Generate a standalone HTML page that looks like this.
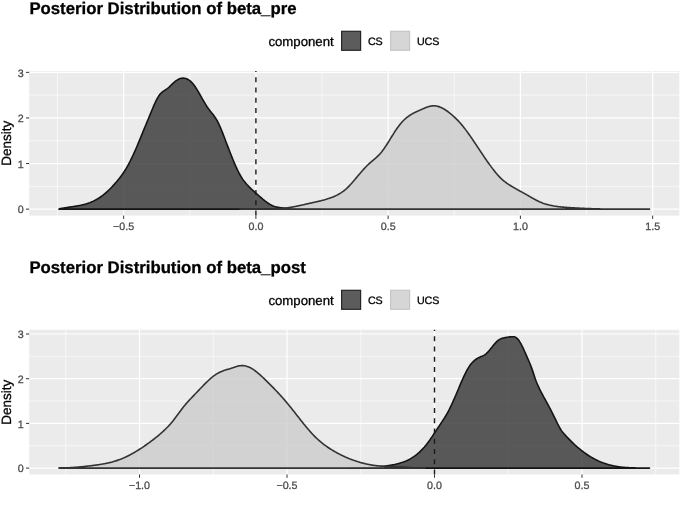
<!DOCTYPE html>
<html><head><meta charset="utf-8"><title>Posterior Distributions</title>
<style>
html,body{margin:0;padding:0;background:#fff;}
body{width:685px;height:514px;overflow:hidden;font-family:"Liberation Sans", sans-serif;}
svg{display:block;position:absolute;left:0;top:0;}
text{text-rendering:geometricPrecision;stroke:currentColor;stroke-width:0.3;}
#w{position:absolute;left:0;top:0;width:685px;height:514px;will-change:transform;}
</style></head><body>
<div id="w"><svg width="685" height="514" viewBox="0 0 685 514">
<g>
<rect width="685" height="514" fill="#fff"/>
<text x="29.4" y="13.80" font-family="'Liberation Sans', sans-serif" font-weight="bold" font-size="16.75" fill="#000" color="#000">Posterior Distribution of beta_pre</text>
<text x="268.4" y="45.60" font-family="'Liberation Sans', sans-serif" font-size="13.2" fill="#000" color="#000">component</text>
<rect x="341.6" y="31.30" width="19" height="19" fill="#5c5c5c" stroke="#262626" stroke-width="1.2"/>
<text x="367.9" y="45.15" font-family="'Liberation Sans', sans-serif" font-size="10.7" fill="#000" color="#000">CS</text>
<rect x="390.6" y="31.30" width="19" height="19" fill="#d6d6d6" stroke="#c6c6c6" stroke-width="1.2"/>
<text x="416.9" y="45.15" font-family="'Liberation Sans', sans-serif" font-size="10.7" fill="#000" color="#000">UCS</text>
<rect x="29.20" y="71.00" width="650.10" height="144.60" fill="#ebebeb"/>
<line x1="29.20" x2="679.30" y1="186.35" y2="186.35" stroke="#fff" stroke-width="0.6"/>
<line x1="29.20" x2="679.30" y1="140.75" y2="140.75" stroke="#fff" stroke-width="0.6"/>
<line x1="29.20" x2="679.30" y1="95.15" y2="95.15" stroke="#fff" stroke-width="0.6"/>
<line x1="57.53" x2="57.53" y1="71.00" y2="215.60" stroke="#fff" stroke-width="0.6"/>
<line x1="189.78" x2="189.78" y1="71.00" y2="215.60" stroke="#fff" stroke-width="0.6"/>
<line x1="322.02" x2="322.02" y1="71.00" y2="215.60" stroke="#fff" stroke-width="0.6"/>
<line x1="454.27" x2="454.27" y1="71.00" y2="215.60" stroke="#fff" stroke-width="0.6"/>
<line x1="586.52" x2="586.52" y1="71.00" y2="215.60" stroke="#fff" stroke-width="0.6"/>
<line x1="29.20" x2="679.30" y1="209.15" y2="209.15" stroke="#fff" stroke-width="1.2"/>
<line x1="29.20" x2="679.30" y1="163.55" y2="163.55" stroke="#fff" stroke-width="1.2"/>
<line x1="29.20" x2="679.30" y1="117.95" y2="117.95" stroke="#fff" stroke-width="1.2"/>
<line x1="29.20" x2="679.30" y1="72.35" y2="72.35" stroke="#fff" stroke-width="1.2"/>
<line x1="123.65" x2="123.65" y1="71.00" y2="215.60" stroke="#fff" stroke-width="1.2"/>
<line x1="255.90" x2="255.90" y1="71.00" y2="215.60" stroke="#fff" stroke-width="1.2"/>
<line x1="388.15" x2="388.15" y1="71.00" y2="215.60" stroke="#fff" stroke-width="1.2"/>
<line x1="520.40" x2="520.40" y1="71.00" y2="215.60" stroke="#fff" stroke-width="1.2"/>
<line x1="652.65" x2="652.65" y1="71.00" y2="215.60" stroke="#fff" stroke-width="1.2"/>
<path d="M58.90,209.15 L58.90,209.15 L59.65,208.79 L60.40,208.63 L61.15,208.49 L61.90,208.34 L62.65,208.20 L63.40,208.07 L64.15,207.94 L64.90,207.82 L65.65,207.70 L66.40,207.58 L67.15,207.47 L67.90,207.35 L68.65,207.24 L69.40,207.13 L70.15,207.02 L70.90,206.91 L71.65,206.80 L72.40,206.69 L73.15,206.58 L73.90,206.46 L74.65,206.35 L75.40,206.23 L76.15,206.10 L76.90,205.97 L77.65,205.84 L78.40,205.70 L79.15,205.56 L79.90,205.41 L80.65,205.26 L81.40,205.09 L82.15,204.92 L82.90,204.74 L83.65,204.56 L84.40,204.36 L85.15,204.15 L85.90,203.94 L86.65,203.71 L87.40,203.47 L88.15,203.22 L88.90,202.96 L89.65,202.69 L90.40,202.40 L91.15,202.10 L91.90,201.78 L92.65,201.46 L93.40,201.11 L94.15,200.75 L94.90,200.37 L95.65,199.98 L96.40,199.57 L97.15,199.14 L97.90,198.69 L98.65,198.23 L99.40,197.74 L100.15,197.24 L100.90,196.72 L101.65,196.18 L102.40,195.62 L103.15,195.04 L103.90,194.44 L104.65,193.82 L105.40,193.19 L106.15,192.54 L106.90,191.87 L107.65,191.19 L108.40,190.48 L109.15,189.76 L109.90,189.02 L110.65,188.27 L111.40,187.50 L112.15,186.71 L112.90,185.91 L113.65,185.09 L114.40,184.25 L115.15,183.40 L115.90,182.53 L116.65,181.65 L117.40,180.75 L118.15,179.84 L118.90,178.91 L119.65,177.96 L120.40,176.98 L121.15,175.99 L121.90,174.96 L122.65,173.91 L123.40,172.82 L124.15,171.71 L124.90,170.55 L125.65,169.35 L126.40,168.12 L127.15,166.84 L127.90,165.51 L128.65,164.13 L129.40,162.71 L130.15,161.24 L130.90,159.73 L131.65,158.19 L132.40,156.60 L133.15,154.98 L133.90,153.33 L134.65,151.65 L135.40,149.95 L136.15,148.22 L136.90,146.47 L137.65,144.70 L138.40,142.92 L139.15,141.12 L139.90,139.31 L140.65,137.49 L141.40,135.67 L142.15,133.84 L142.90,132.00 L143.65,130.17 L144.40,128.34 L145.15,126.51 L145.90,124.68 L146.65,122.87 L147.40,121.06 L148.15,119.26 L148.90,117.47 L149.65,115.67 L150.40,113.87 L151.15,112.06 L151.90,110.25 L152.65,108.45 L153.40,106.68 L154.15,104.94 L154.90,103.26 L155.65,101.65 L156.40,100.11 L157.15,98.67 L157.90,97.34 L158.65,96.12 L159.40,95.04 L160.15,94.10 L160.90,93.27 L161.65,92.54 L162.40,91.90 L163.15,91.33 L163.90,90.80 L164.65,90.31 L165.40,89.82 L166.15,89.34 L166.90,88.84 L167.65,88.29 L168.40,87.70 L169.15,87.05 L169.90,86.36 L170.65,85.64 L171.40,84.91 L172.15,84.17 L172.90,83.44 L173.65,82.74 L174.40,82.06 L175.15,81.44 L175.90,80.86 L176.65,80.34 L177.40,79.87 L178.15,79.45 L178.90,79.09 L179.65,78.78 L180.40,78.53 L181.15,78.34 L181.90,78.21 L182.65,78.14 L183.40,78.13 L184.15,78.19 L184.90,78.30 L185.65,78.48 L186.40,78.73 L187.15,79.04 L187.90,79.42 L188.65,79.87 L189.40,80.38 L190.15,80.97 L190.90,81.62 L191.65,82.35 L192.40,83.15 L193.15,84.03 L193.90,84.98 L194.65,86.00 L195.40,87.08 L196.15,88.22 L196.90,89.41 L197.65,90.64 L198.40,91.91 L199.15,93.21 L199.90,94.52 L200.65,95.85 L201.40,97.19 L202.15,98.52 L202.90,99.85 L203.65,101.16 L204.40,102.45 L205.15,103.71 L205.90,104.94 L206.65,106.12 L207.40,107.25 L208.15,108.33 L208.90,109.35 L209.65,110.33 L210.40,111.28 L211.15,112.21 L211.90,113.15 L212.65,114.09 L213.40,115.06 L214.15,116.07 L214.90,117.12 L215.65,118.25 L216.40,119.44 L217.15,120.73 L217.90,122.13 L218.65,123.63 L219.40,125.24 L220.15,126.93 L220.90,128.70 L221.65,130.53 L222.40,132.42 L223.15,134.34 L223.90,136.29 L224.65,138.25 L225.40,140.22 L226.15,142.20 L226.90,144.17 L227.65,146.14 L228.40,148.10 L229.15,150.05 L229.90,151.98 L230.65,153.90 L231.40,155.80 L232.15,157.67 L232.90,159.51 L233.65,161.31 L234.40,163.09 L235.15,164.82 L235.90,166.51 L236.65,168.15 L237.40,169.74 L238.15,171.27 L238.90,172.75 L239.65,174.16 L240.40,175.50 L241.15,176.77 L241.90,177.97 L242.65,179.10 L243.40,180.16 L244.15,181.17 L244.90,182.12 L245.65,183.03 L246.40,183.90 L247.15,184.74 L247.90,185.54 L248.65,186.32 L249.40,187.09 L250.15,187.83 L250.90,188.56 L251.65,189.28 L252.40,189.99 L253.15,190.68 L253.90,191.36 L254.65,192.04 L255.40,192.70 L256.15,193.37 L256.90,194.03 L257.65,194.68 L258.40,195.34 L259.15,195.99 L259.90,196.65 L260.65,197.31 L261.40,197.96 L262.15,198.60 L262.90,199.24 L263.65,199.86 L264.40,200.47 L265.15,201.06 L265.90,201.64 L266.65,202.20 L267.40,202.73 L268.15,203.24 L268.90,203.72 L269.65,204.18 L270.40,204.60 L271.15,204.98 L271.90,205.34 L272.65,205.67 L273.40,205.96 L274.15,206.23 L274.90,206.48 L275.65,206.70 L276.40,206.90 L277.15,207.08 L277.90,207.24 L278.65,207.39 L279.40,207.52 L280.15,207.65 L280.90,207.76 L281.65,207.86 L282.40,207.96 L283.15,208.05 L283.90,208.13 L284.65,208.21 L285.40,208.28 L286.15,208.35 L286.90,208.42 L287.65,208.48 L288.40,208.53 L289.15,208.59 L289.90,208.63 L290.65,208.68 L291.40,208.72 L292.15,208.75 L292.90,208.78 L293.65,208.81 L294.40,208.84 L295.15,208.86 L295.90,208.88 L296.65,208.90 L297.40,208.91 L298.15,208.93 L298.90,208.94 L299.65,208.95 L300.40,208.95 L301.15,208.96 L301.90,208.96 L302.65,208.97 L303.40,208.97 L304.15,208.97 L304.90,208.97 L305.65,208.97 L306.40,208.96 L307.15,208.96 L307.90,208.96 L308.65,208.96 L309.40,208.96 L310.15,208.95 L310.90,208.95 L311.65,208.95 L312.40,208.95 L313.15,208.95 L313.90,208.96 L314.65,208.96 L315.40,208.97 L316.15,208.97 L316.90,208.98 L317.65,208.99 L318.40,209.01 L319.15,209.02 L319.90,209.04 L320.00,209.15 L320.00,209.15 Z" fill="#333333" fill-opacity="0.8" stroke="#141414" stroke-width="1.6" stroke-linejoin="round"/>

<path d="M240.00,209.15 L240.00,209.15 L240.75,209.15 L241.50,209.09 L242.25,209.04 L243.00,208.99 L243.75,208.95 L244.50,208.92 L245.25,208.88 L246.00,208.86 L246.75,208.83 L247.50,208.81 L248.25,208.80 L249.00,208.78 L249.75,208.77 L250.50,208.76 L251.25,208.76 L252.00,208.76 L252.75,208.76 L253.50,208.76 L254.25,208.76 L255.00,208.77 L255.75,208.78 L256.50,208.79 L257.25,208.80 L258.00,208.81 L258.75,208.82 L259.50,208.83 L260.25,208.84 L261.00,208.86 L261.75,208.87 L262.50,208.88 L263.25,208.89 L264.00,208.90 L264.75,208.91 L265.50,208.92 L266.25,208.93 L267.00,208.94 L267.75,208.94 L268.50,208.95 L269.25,208.95 L270.00,208.95 L270.75,208.94 L271.50,208.94 L272.25,208.93 L273.00,208.91 L273.75,208.90 L274.50,208.88 L275.25,208.86 L276.00,208.83 L276.75,208.80 L277.50,208.77 L278.25,208.73 L279.00,208.69 L279.75,208.64 L280.50,208.58 L281.25,208.53 L282.00,208.46 L282.75,208.39 L283.50,208.32 L284.25,208.24 L285.00,208.15 L285.75,208.06 L286.50,207.96 L287.25,207.86 L288.00,207.75 L288.75,207.63 L289.50,207.52 L290.25,207.39 L291.00,207.27 L291.75,207.14 L292.50,207.00 L293.25,206.87 L294.00,206.72 L294.75,206.58 L295.50,206.43 L296.25,206.28 L297.00,206.13 L297.75,205.97 L298.50,205.81 L299.25,205.65 L300.00,205.49 L300.75,205.33 L301.50,205.16 L302.25,205.00 L303.00,204.83 L303.75,204.66 L304.50,204.49 L305.25,204.32 L306.00,204.15 L306.75,203.98 L307.50,203.81 L308.25,203.64 L309.00,203.47 L309.75,203.30 L310.50,203.13 L311.25,202.96 L312.00,202.80 L312.75,202.63 L313.50,202.47 L314.25,202.30 L315.00,202.13 L315.75,201.97 L316.50,201.80 L317.25,201.63 L318.00,201.45 L318.75,201.28 L319.50,201.10 L320.25,200.92 L321.00,200.74 L321.75,200.55 L322.50,200.35 L323.25,200.15 L324.00,199.95 L324.75,199.74 L325.50,199.53 L326.25,199.30 L327.00,199.07 L327.75,198.84 L328.50,198.60 L329.25,198.34 L330.00,198.08 L330.75,197.81 L331.50,197.54 L332.25,197.25 L333.00,196.95 L333.75,196.64 L334.50,196.32 L335.25,195.98 L336.00,195.63 L336.75,195.27 L337.50,194.88 L338.25,194.48 L339.00,194.06 L339.75,193.62 L340.50,193.16 L341.25,192.68 L342.00,192.17 L342.75,191.64 L343.50,191.09 L344.25,190.50 L345.00,189.89 L345.75,189.25 L346.50,188.59 L347.25,187.89 L348.00,187.16 L348.75,186.40 L349.50,185.62 L350.25,184.82 L351.00,184.00 L351.75,183.16 L352.50,182.30 L353.25,181.43 L354.00,180.56 L354.75,179.67 L355.50,178.78 L356.25,177.88 L357.00,176.99 L357.75,176.09 L358.50,175.20 L359.25,174.31 L360.00,173.43 L360.75,172.56 L361.50,171.69 L362.25,170.84 L363.00,169.99 L363.75,169.16 L364.50,168.35 L365.25,167.54 L366.00,166.76 L366.75,165.99 L367.50,165.24 L368.25,164.51 L369.00,163.81 L369.75,163.13 L370.50,162.46 L371.25,161.82 L372.00,161.18 L372.75,160.55 L373.50,159.92 L374.25,159.29 L375.00,158.65 L375.75,158.00 L376.50,157.33 L377.25,156.64 L378.00,155.92 L378.75,155.17 L379.50,154.38 L380.25,153.55 L381.00,152.68 L381.75,151.76 L382.50,150.79 L383.25,149.78 L384.00,148.73 L384.75,147.65 L385.50,146.54 L386.25,145.40 L387.00,144.23 L387.75,143.05 L388.50,141.85 L389.25,140.64 L390.00,139.42 L390.75,138.20 L391.50,136.97 L392.25,135.75 L393.00,134.55 L393.75,133.35 L394.50,132.18 L395.25,131.03 L396.00,129.91 L396.75,128.82 L397.50,127.76 L398.25,126.73 L399.00,125.73 L399.75,124.76 L400.50,123.83 L401.25,122.94 L402.00,122.08 L402.75,121.26 L403.50,120.48 L404.25,119.75 L405.00,119.04 L405.75,118.38 L406.50,117.75 L407.25,117.15 L408.00,116.58 L408.75,116.04 L409.50,115.53 L410.25,115.04 L411.00,114.58 L411.75,114.13 L412.50,113.71 L413.25,113.30 L414.00,112.91 L414.75,112.53 L415.50,112.17 L416.25,111.81 L417.00,111.46 L417.75,111.12 L418.50,110.79 L419.25,110.45 L420.00,110.12 L420.75,109.79 L421.50,109.45 L422.25,109.12 L423.00,108.78 L423.75,108.46 L424.50,108.14 L425.25,107.83 L426.00,107.53 L426.75,107.25 L427.50,106.99 L428.25,106.74 L429.00,106.52 L429.75,106.32 L430.50,106.16 L431.25,106.02 L432.00,105.91 L432.75,105.83 L433.50,105.80 L434.25,105.80 L435.00,105.84 L435.75,105.92 L436.50,106.04 L437.25,106.20 L438.00,106.39 L438.75,106.61 L439.50,106.87 L440.25,107.15 L441.00,107.47 L441.75,107.82 L442.50,108.20 L443.25,108.60 L444.00,109.03 L444.75,109.48 L445.50,109.96 L446.25,110.46 L447.00,110.98 L447.75,111.52 L448.50,112.08 L449.25,112.66 L450.00,113.26 L450.75,113.88 L451.50,114.50 L452.25,115.15 L453.00,115.81 L453.75,116.49 L454.50,117.18 L455.25,117.89 L456.00,118.62 L456.75,119.37 L457.50,120.13 L458.25,120.92 L459.00,121.72 L459.75,122.54 L460.50,123.39 L461.25,124.25 L462.00,125.13 L462.75,126.04 L463.50,126.97 L464.25,127.92 L465.00,128.88 L465.75,129.87 L466.50,130.87 L467.25,131.89 L468.00,132.92 L468.75,133.97 L469.50,135.03 L470.25,136.10 L471.00,137.19 L471.75,138.28 L472.50,139.38 L473.25,140.49 L474.00,141.60 L474.75,142.73 L475.50,143.85 L476.25,144.98 L477.00,146.11 L477.75,147.25 L478.50,148.38 L479.25,149.51 L480.00,150.64 L480.75,151.77 L481.50,152.89 L482.25,154.01 L483.00,155.13 L483.75,156.24 L484.50,157.34 L485.25,158.44 L486.00,159.52 L486.75,160.61 L487.50,161.68 L488.25,162.74 L489.00,163.79 L489.75,164.84 L490.50,165.87 L491.25,166.89 L492.00,167.89 L492.75,168.89 L493.50,169.86 L494.25,170.82 L495.00,171.76 L495.75,172.67 L496.50,173.57 L497.25,174.44 L498.00,175.29 L498.75,176.11 L499.50,176.91 L500.25,177.67 L501.00,178.41 L501.75,179.11 L502.50,179.79 L503.25,180.43 L504.00,181.05 L504.75,181.65 L505.50,182.22 L506.25,182.77 L507.00,183.31 L507.75,183.82 L508.50,184.32 L509.25,184.81 L510.00,185.29 L510.75,185.75 L511.50,186.21 L512.25,186.66 L513.00,187.10 L513.75,187.54 L514.50,187.98 L515.25,188.41 L516.00,188.84 L516.75,189.26 L517.50,189.68 L518.25,190.10 L519.00,190.51 L519.75,190.93 L520.50,191.34 L521.25,191.75 L522.00,192.17 L522.75,192.58 L523.50,193.00 L524.25,193.41 L525.00,193.83 L525.75,194.25 L526.50,194.67 L527.25,195.09 L528.00,195.52 L528.75,195.95 L529.50,196.39 L530.25,196.82 L531.00,197.26 L531.75,197.69 L532.50,198.12 L533.25,198.55 L534.00,198.97 L534.75,199.38 L535.50,199.79 L536.25,200.18 L537.00,200.57 L537.75,200.94 L538.50,201.30 L539.25,201.65 L540.00,201.98 L540.75,202.30 L541.50,202.61 L542.25,202.90 L543.00,203.18 L543.75,203.44 L544.50,203.70 L545.25,203.94 L546.00,204.17 L546.75,204.39 L547.50,204.60 L548.25,204.80 L549.00,204.99 L549.75,205.17 L550.50,205.34 L551.25,205.50 L552.00,205.65 L552.75,205.80 L553.50,205.93 L554.25,206.06 L555.00,206.19 L555.75,206.30 L556.50,206.41 L557.25,206.51 L558.00,206.61 L558.75,206.70 L559.50,206.78 L560.25,206.86 L561.00,206.94 L561.75,207.01 L562.50,207.08 L563.25,207.15 L564.00,207.21 L564.75,207.27 L565.50,207.33 L566.25,207.38 L567.00,207.44 L567.75,207.49 L568.50,207.54 L569.25,207.59 L570.00,207.64 L570.75,207.69 L571.50,207.74 L572.25,207.78 L573.00,207.83 L573.75,207.87 L574.50,207.92 L575.25,207.96 L576.00,208.00 L576.75,208.04 L577.50,208.08 L578.25,208.12 L579.00,208.16 L579.75,208.20 L580.50,208.23 L581.25,208.27 L582.00,208.30 L582.75,208.34 L583.50,208.37 L584.25,208.40 L585.00,208.44 L585.75,208.47 L586.50,208.50 L587.25,208.53 L588.00,208.56 L588.75,208.58 L589.50,208.61 L590.25,208.64 L591.00,208.66 L591.75,208.69 L592.50,208.71 L593.25,208.74 L594.00,208.76 L594.75,208.78 L595.50,208.80 L596.25,208.82 L597.00,208.84 L597.75,208.86 L598.50,208.88 L599.25,208.90 L600.00,208.92 L600.75,208.93 L601.50,208.95 L602.25,208.96 L603.00,208.98 L603.75,208.99 L604.50,209.01 L605.25,209.02 L606.00,209.03 L606.75,209.04 L607.50,209.06 L608.25,209.07 L609.00,209.08 L609.75,209.09 L610.50,209.10 L611.25,209.10 L612.00,209.11 L612.75,209.12 L613.50,209.13 L614.25,209.13 L615.00,209.14 L615.75,209.15 L616.50,209.15 L617.25,209.15 L618.00,209.15 L618.75,209.15 L619.50,209.15 L620.25,209.15 L621.00,209.15 L621.75,209.15 L622.50,209.15 L623.25,209.15 L624.00,209.15 L624.75,209.15 L625.50,209.15 L626.25,209.15 L627.00,209.15 L627.75,209.15 L628.50,209.15 L629.25,209.15 L630.00,209.15 L630.75,209.15 L631.50,209.15 L632.25,209.15 L633.00,209.15 L633.75,209.15 L634.50,209.15 L635.25,209.15 L636.00,209.15 L636.75,209.14 L637.50,209.14 L638.25,209.13 L639.00,209.13 L639.75,209.12 L640.50,209.12 L641.25,209.11 L642.00,209.10 L642.75,209.10 L643.50,209.09 L644.25,209.08 L645.00,209.08 L645.75,209.07 L646.50,209.06 L647.25,209.05 L648.00,209.05 L648.75,209.04 L649.50,209.15 L649.50,209.15 Z" fill="#cccccc" fill-opacity="0.8" stroke="#333" stroke-width="1.6" stroke-linejoin="round"/>

<line x1="255.90" x2="255.90" y1="215.60" y2="71.00" stroke="#1a1a1a" stroke-width="1.4" stroke-dasharray="5 5.25"/>
<line x1="26.0" x2="29.20" y1="209.15" y2="209.15" stroke="#333" stroke-width="1.0"/>
<text x="23.6" y="213.35" text-anchor="end" font-family="'Liberation Sans', sans-serif" font-size="10.7" fill="#4d4d4d" color="#4d4d4d">0</text>
<line x1="26.0" x2="29.20" y1="163.55" y2="163.55" stroke="#333" stroke-width="1.0"/>
<text x="23.6" y="167.75" text-anchor="end" font-family="'Liberation Sans', sans-serif" font-size="10.7" fill="#4d4d4d" color="#4d4d4d">1</text>
<line x1="26.0" x2="29.20" y1="117.95" y2="117.95" stroke="#333" stroke-width="1.0"/>
<text x="23.6" y="122.15" text-anchor="end" font-family="'Liberation Sans', sans-serif" font-size="10.7" fill="#4d4d4d" color="#4d4d4d">2</text>
<line x1="26.0" x2="29.20" y1="72.35" y2="72.35" stroke="#333" stroke-width="1.0"/>
<text x="23.6" y="76.55" text-anchor="end" font-family="'Liberation Sans', sans-serif" font-size="10.7" fill="#4d4d4d" color="#4d4d4d">3</text>
<line x1="123.65" x2="123.65" y1="215.60" y2="218.90" stroke="#333" stroke-width="1.0"/>
<text x="123.65" y="229.80" text-anchor="middle" font-family="'Liberation Sans', sans-serif" font-size="10.7" fill="#4d4d4d" color="#4d4d4d">−0.5</text>
<line x1="255.90" x2="255.90" y1="215.60" y2="218.90" stroke="#333" stroke-width="1.0"/>
<text x="255.90" y="229.80" text-anchor="middle" font-family="'Liberation Sans', sans-serif" font-size="10.7" fill="#4d4d4d" color="#4d4d4d">0.0</text>
<line x1="388.15" x2="388.15" y1="215.60" y2="218.90" stroke="#333" stroke-width="1.0"/>
<text x="388.15" y="229.80" text-anchor="middle" font-family="'Liberation Sans', sans-serif" font-size="10.7" fill="#4d4d4d" color="#4d4d4d">0.5</text>
<line x1="520.40" x2="520.40" y1="215.60" y2="218.90" stroke="#333" stroke-width="1.0"/>
<text x="520.40" y="229.80" text-anchor="middle" font-family="'Liberation Sans', sans-serif" font-size="10.7" fill="#4d4d4d" color="#4d4d4d">1.0</text>
<line x1="652.65" x2="652.65" y1="215.60" y2="218.90" stroke="#333" stroke-width="1.0"/>
<text x="652.65" y="229.80" text-anchor="middle" font-family="'Liberation Sans', sans-serif" font-size="10.7" fill="#4d4d4d" color="#4d4d4d">1.5</text>
<text transform="translate(10.8,143.30) rotate(-90)" text-anchor="middle" font-family="'Liberation Sans', sans-serif" font-size="13.5" fill="#000" color="#000">Density</text>
<text x="29.4" y="272.80" font-family="'Liberation Sans', sans-serif" font-weight="bold" font-size="16.75" fill="#000" color="#000">Posterior Distribution of beta_post</text>
<text x="268.4" y="304.60" font-family="'Liberation Sans', sans-serif" font-size="13.2" fill="#000" color="#000">component</text>
<rect x="341.6" y="290.30" width="19" height="19" fill="#5c5c5c" stroke="#262626" stroke-width="1.2"/>
<text x="367.9" y="304.15" font-family="'Liberation Sans', sans-serif" font-size="10.7" fill="#000" color="#000">CS</text>
<rect x="390.6" y="290.30" width="19" height="19" fill="#d6d6d6" stroke="#c6c6c6" stroke-width="1.2"/>
<text x="416.9" y="304.15" font-family="'Liberation Sans', sans-serif" font-size="10.7" fill="#000" color="#000">UCS</text>
<rect x="29.20" y="329.80" width="650.10" height="144.70" fill="#ebebeb"/>
<line x1="29.20" x2="679.30" y1="445.75" y2="445.75" stroke="#fff" stroke-width="0.6"/>
<line x1="29.20" x2="679.30" y1="401.05" y2="401.05" stroke="#fff" stroke-width="0.6"/>
<line x1="29.20" x2="679.30" y1="356.35" y2="356.35" stroke="#fff" stroke-width="0.6"/>
<line x1="65.75" x2="65.75" y1="329.80" y2="474.50" stroke="#fff" stroke-width="0.6"/>
<line x1="213.25" x2="213.25" y1="329.80" y2="474.50" stroke="#fff" stroke-width="0.6"/>
<line x1="360.75" x2="360.75" y1="329.80" y2="474.50" stroke="#fff" stroke-width="0.6"/>
<line x1="508.25" x2="508.25" y1="329.80" y2="474.50" stroke="#fff" stroke-width="0.6"/>
<line x1="655.75" x2="655.75" y1="329.80" y2="474.50" stroke="#fff" stroke-width="0.6"/>
<line x1="29.20" x2="679.30" y1="468.10" y2="468.10" stroke="#fff" stroke-width="1.2"/>
<line x1="29.20" x2="679.30" y1="423.40" y2="423.40" stroke="#fff" stroke-width="1.2"/>
<line x1="29.20" x2="679.30" y1="378.70" y2="378.70" stroke="#fff" stroke-width="1.2"/>
<line x1="29.20" x2="679.30" y1="334.00" y2="334.00" stroke="#fff" stroke-width="1.2"/>
<line x1="139.50" x2="139.50" y1="329.80" y2="474.50" stroke="#fff" stroke-width="1.2"/>
<line x1="287.00" x2="287.00" y1="329.80" y2="474.50" stroke="#fff" stroke-width="1.2"/>
<line x1="434.50" x2="434.50" y1="329.80" y2="474.50" stroke="#fff" stroke-width="1.2"/>
<line x1="582.00" x2="582.00" y1="329.80" y2="474.50" stroke="#fff" stroke-width="1.2"/>
<path d="M350.00,468.10 L350.00,468.10 L350.75,468.02 L351.50,468.02 L352.25,468.03 L353.00,468.03 L353.75,468.03 L354.50,468.03 L355.25,468.03 L356.00,468.03 L356.75,468.02 L357.50,468.01 L358.25,468.00 L359.00,467.99 L359.75,467.98 L360.50,467.96 L361.25,467.95 L362.00,467.93 L362.75,467.90 L363.50,467.88 L364.25,467.85 L365.00,467.83 L365.75,467.80 L366.50,467.76 L367.25,467.73 L368.00,467.69 L368.75,467.65 L369.50,467.61 L370.25,467.56 L371.00,467.52 L371.75,467.47 L372.50,467.41 L373.25,467.36 L374.00,467.30 L374.75,467.24 L375.50,467.18 L376.25,467.11 L377.00,467.04 L377.75,466.97 L378.50,466.89 L379.25,466.82 L380.00,466.73 L380.75,466.65 L381.50,466.56 L382.25,466.47 L383.00,466.38 L383.75,466.29 L384.50,466.19 L385.25,466.08 L386.00,465.98 L386.75,465.87 L387.50,465.76 L388.25,465.64 L389.00,465.52 L389.75,465.40 L390.50,465.27 L391.25,465.14 L392.00,465.01 L392.75,464.87 L393.50,464.72 L394.25,464.57 L395.00,464.41 L395.75,464.25 L396.50,464.07 L397.25,463.89 L398.00,463.70 L398.75,463.50 L399.50,463.29 L400.25,463.07 L401.00,462.84 L401.75,462.60 L402.50,462.34 L403.25,462.08 L404.00,461.80 L404.75,461.50 L405.50,461.19 L406.25,460.87 L407.00,460.53 L407.75,460.18 L408.50,459.80 L409.25,459.42 L410.00,459.01 L410.75,458.59 L411.50,458.14 L412.25,457.68 L413.00,457.20 L413.75,456.70 L414.50,456.17 L415.25,455.63 L416.00,455.06 L416.75,454.47 L417.50,453.86 L418.25,453.22 L419.00,452.56 L419.75,451.88 L420.50,451.17 L421.25,450.43 L422.00,449.67 L422.75,448.88 L423.50,448.06 L424.25,447.22 L425.00,446.34 L425.75,445.44 L426.50,444.51 L427.25,443.54 L428.00,442.55 L428.75,441.53 L429.50,440.48 L430.25,439.40 L431.00,438.31 L431.75,437.20 L432.50,436.08 L433.25,434.94 L434.00,433.80 L434.75,432.66 L435.50,431.51 L436.25,430.37 L437.00,429.23 L437.75,428.11 L438.50,426.99 L439.25,425.88 L440.00,424.78 L440.75,423.67 L441.50,422.56 L442.25,421.43 L443.00,420.29 L443.75,419.13 L444.50,417.94 L445.25,416.72 L446.00,415.47 L446.75,414.17 L447.50,412.83 L448.25,411.44 L449.00,410.00 L449.75,408.50 L450.50,406.97 L451.25,405.39 L452.00,403.77 L452.75,402.12 L453.50,400.45 L454.25,398.74 L455.00,397.02 L455.75,395.27 L456.50,393.51 L457.25,391.75 L458.00,389.97 L458.75,388.19 L459.50,386.42 L460.25,384.65 L461.00,382.90 L461.75,381.17 L462.50,379.47 L463.25,377.80 L464.00,376.18 L464.75,374.59 L465.50,373.07 L466.25,371.60 L467.00,370.19 L467.75,368.86 L468.50,367.60 L469.25,366.43 L470.00,365.34 L470.75,364.34 L471.50,363.41 L472.25,362.56 L473.00,361.78 L473.75,361.07 L474.50,360.41 L475.25,359.81 L476.00,359.27 L476.75,358.77 L477.50,358.31 L478.25,357.90 L479.00,357.52 L479.75,357.16 L480.50,356.84 L481.25,356.52 L482.00,356.21 L482.75,355.87 L483.50,355.51 L484.25,355.09 L485.00,354.61 L485.75,354.05 L486.50,353.41 L487.25,352.70 L488.00,351.92 L488.75,351.09 L489.50,350.21 L490.25,349.31 L491.00,348.37 L491.75,347.43 L492.50,346.48 L493.25,345.54 L494.00,344.62 L494.75,343.73 L495.50,342.88 L496.25,342.09 L497.00,341.36 L497.75,340.70 L498.50,340.13 L499.25,339.64 L500.00,339.23 L500.75,338.87 L501.50,338.57 L502.25,338.32 L503.00,338.11 L503.75,337.92 L504.50,337.75 L505.25,337.60 L506.00,337.45 L506.75,337.32 L507.50,337.19 L508.25,337.08 L509.00,336.98 L509.75,336.90 L510.50,336.83 L511.25,336.78 L512.00,336.74 L512.75,336.72 L513.50,336.73 L514.25,336.82 L515.00,337.01 L515.75,337.36 L516.50,337.87 L517.25,338.53 L518.00,339.35 L518.75,340.30 L519.50,341.39 L520.25,342.59 L521.00,343.90 L521.75,345.32 L522.50,346.82 L523.25,348.40 L524.00,350.04 L524.75,351.72 L525.50,353.43 L526.25,355.15 L527.00,356.87 L527.75,358.58 L528.50,360.29 L529.25,362.02 L530.00,363.80 L530.75,365.66 L531.50,367.61 L532.25,369.67 L533.00,371.88 L533.75,374.21 L534.50,376.55 L535.25,378.77 L536.00,380.83 L536.75,382.73 L537.50,384.51 L538.25,386.19 L539.00,387.79 L539.75,389.34 L540.50,390.84 L541.25,392.30 L542.00,393.73 L542.75,395.13 L543.50,396.51 L544.25,397.88 L545.00,399.23 L545.75,400.59 L546.50,401.95 L547.25,403.31 L548.00,404.69 L548.75,406.09 L549.50,407.52 L550.25,408.96 L551.00,410.43 L551.75,411.91 L552.50,413.41 L553.25,414.91 L554.00,416.43 L554.75,417.94 L555.50,419.46 L556.25,420.97 L557.00,422.49 L557.75,423.99 L558.50,425.48 L559.25,426.92 L560.00,428.27 L560.75,429.50 L561.50,430.61 L562.25,431.63 L563.00,432.57 L563.75,433.46 L564.50,434.31 L565.25,435.15 L566.00,435.97 L566.75,436.79 L567.50,437.59 L568.25,438.38 L569.00,439.16 L569.75,439.92 L570.50,440.68 L571.25,441.42 L572.00,442.16 L572.75,442.88 L573.50,443.59 L574.25,444.29 L575.00,444.98 L575.75,445.66 L576.50,446.32 L577.25,446.98 L578.00,447.62 L578.75,448.25 L579.50,448.88 L580.25,449.49 L581.00,450.09 L581.75,450.67 L582.50,451.25 L583.25,451.82 L584.00,452.38 L584.75,452.92 L585.50,453.45 L586.25,453.98 L587.00,454.49 L587.75,454.99 L588.50,455.48 L589.25,455.96 L590.00,456.43 L590.75,456.89 L591.50,457.34 L592.25,457.77 L593.00,458.20 L593.75,458.61 L594.50,459.02 L595.25,459.41 L596.00,459.80 L596.75,460.17 L597.50,460.53 L598.25,460.88 L599.00,461.23 L599.75,461.56 L600.50,461.88 L601.25,462.19 L602.00,462.49 L602.75,462.78 L603.50,463.05 L604.25,463.32 L605.00,463.58 L605.75,463.83 L606.50,464.07 L607.25,464.30 L608.00,464.52 L608.75,464.73 L609.50,464.93 L610.25,465.12 L611.00,465.30 L611.75,465.48 L612.50,465.65 L613.25,465.81 L614.00,465.96 L614.75,466.10 L615.50,466.24 L616.25,466.37 L617.00,466.49 L617.75,466.61 L618.50,466.72 L619.25,466.82 L620.00,466.92 L620.75,467.01 L621.50,467.10 L622.25,467.18 L623.00,467.25 L623.75,467.32 L624.50,467.39 L625.25,467.45 L626.00,467.51 L626.75,467.56 L627.50,467.61 L628.25,467.65 L629.00,467.69 L629.75,467.73 L630.50,467.76 L631.25,467.79 L632.00,467.82 L632.75,467.85 L633.50,467.87 L634.25,467.89 L635.00,467.91 L635.75,467.93 L636.50,467.94 L637.25,467.96 L638.00,467.97 L638.75,467.98 L639.50,467.99 L640.25,468.00 L641.00,468.01 L641.75,468.02 L642.50,468.04 L643.25,468.05 L644.00,468.06 L644.75,468.07 L645.50,468.08 L646.25,468.10 L647.00,468.10 L647.75,468.10 L648.50,468.10 L649.25,468.10 L649.50,468.10 L649.50,468.10 Z" fill="#333333" fill-opacity="0.8" stroke="#141414" stroke-width="1.6" stroke-linejoin="round"/>

<path d="M58.90,468.10 L58.90,468.10 L59.65,467.90 L60.40,467.91 L61.15,467.91 L61.90,467.90 L62.65,467.89 L63.40,467.88 L64.15,467.87 L64.90,467.85 L65.65,467.83 L66.40,467.81 L67.15,467.78 L67.90,467.75 L68.65,467.72 L69.40,467.68 L70.15,467.65 L70.90,467.60 L71.65,467.56 L72.40,467.52 L73.15,467.47 L73.90,467.42 L74.65,467.36 L75.40,467.31 L76.15,467.25 L76.90,467.19 L77.65,467.13 L78.40,467.06 L79.15,466.99 L79.90,466.92 L80.65,466.85 L81.40,466.78 L82.15,466.71 L82.90,466.63 L83.65,466.55 L84.40,466.47 L85.15,466.39 L85.90,466.31 L86.65,466.22 L87.40,466.14 L88.15,466.05 L88.90,465.96 L89.65,465.87 L90.40,465.78 L91.15,465.69 L91.90,465.60 L92.65,465.50 L93.40,465.41 L94.15,465.31 L94.90,465.21 L95.65,465.11 L96.40,465.01 L97.15,464.90 L97.90,464.79 L98.65,464.68 L99.40,464.57 L100.15,464.45 L100.90,464.33 L101.65,464.21 L102.40,464.08 L103.15,463.95 L103.90,463.81 L104.65,463.67 L105.40,463.52 L106.15,463.37 L106.90,463.22 L107.65,463.06 L108.40,462.89 L109.15,462.72 L109.90,462.54 L110.65,462.35 L111.40,462.16 L112.15,461.97 L112.90,461.76 L113.65,461.55 L114.40,461.33 L115.15,461.10 L115.90,460.87 L116.65,460.63 L117.40,460.38 L118.15,460.12 L118.90,459.85 L119.65,459.58 L120.40,459.29 L121.15,459.00 L121.90,458.69 L122.65,458.38 L123.40,458.06 L124.15,457.73 L124.90,457.39 L125.65,457.05 L126.40,456.69 L127.15,456.33 L127.90,455.95 L128.65,455.57 L129.40,455.19 L130.15,454.79 L130.90,454.39 L131.65,453.98 L132.40,453.56 L133.15,453.14 L133.90,452.71 L134.65,452.27 L135.40,451.83 L136.15,451.38 L136.90,450.92 L137.65,450.46 L138.40,449.99 L139.15,449.52 L139.90,449.04 L140.65,448.55 L141.40,448.06 L142.15,447.57 L142.90,447.06 L143.65,446.56 L144.40,446.05 L145.15,445.53 L145.90,445.01 L146.65,444.48 L147.40,443.95 L148.15,443.41 L148.90,442.87 L149.65,442.32 L150.40,441.77 L151.15,441.21 L151.90,440.65 L152.65,440.08 L153.40,439.51 L154.15,438.92 L154.90,438.33 L155.65,437.74 L156.40,437.13 L157.15,436.52 L157.90,435.90 L158.65,435.28 L159.40,434.64 L160.15,434.00 L160.90,433.35 L161.65,432.69 L162.40,432.01 L163.15,431.33 L163.90,430.64 L164.65,429.94 L165.40,429.23 L166.15,428.50 L166.90,427.76 L167.65,426.99 L168.40,426.21 L169.15,425.40 L169.90,424.57 L170.65,423.71 L171.40,422.83 L172.15,421.91 L172.90,420.98 L173.65,420.02 L174.40,419.05 L175.15,418.06 L175.90,417.06 L176.65,416.05 L177.40,415.03 L178.15,414.01 L178.90,412.99 L179.65,411.97 L180.40,410.96 L181.15,409.96 L181.90,408.96 L182.65,407.98 L183.40,407.02 L184.15,406.07 L184.90,405.15 L185.65,404.25 L186.40,403.37 L187.15,402.52 L187.90,401.68 L188.65,400.86 L189.40,400.05 L190.15,399.25 L190.90,398.46 L191.65,397.68 L192.40,396.90 L193.15,396.13 L193.90,395.35 L194.65,394.57 L195.40,393.79 L196.15,393.00 L196.90,392.21 L197.65,391.42 L198.40,390.63 L199.15,389.84 L199.90,389.06 L200.65,388.27 L201.40,387.49 L202.15,386.71 L202.90,385.94 L203.65,385.17 L204.40,384.41 L205.15,383.66 L205.90,382.91 L206.65,382.18 L207.40,381.45 L208.15,380.73 L208.90,380.03 L209.65,379.34 L210.40,378.66 L211.15,378.00 L211.90,377.36 L212.65,376.75 L213.40,376.15 L214.15,375.59 L214.90,375.05 L215.65,374.54 L216.40,374.07 L217.15,373.62 L217.90,373.20 L218.65,372.80 L219.40,372.43 L220.15,372.08 L220.90,371.75 L221.65,371.44 L222.40,371.15 L223.15,370.86 L223.90,370.60 L224.65,370.34 L225.40,370.09 L226.15,369.85 L226.90,369.61 L227.65,369.38 L228.40,369.15 L229.15,368.92 L229.90,368.69 L230.65,368.46 L231.40,368.22 L232.15,367.97 L232.90,367.72 L233.65,367.46 L234.40,367.20 L235.15,366.95 L235.90,366.70 L236.65,366.47 L237.40,366.26 L238.15,366.07 L238.90,365.90 L239.65,365.77 L240.40,365.68 L241.15,365.61 L241.90,365.58 L242.65,365.59 L243.40,365.63 L244.15,365.71 L244.90,365.82 L245.65,365.97 L246.40,366.16 L247.15,366.39 L247.90,366.65 L248.65,366.95 L249.40,367.28 L250.15,367.65 L250.90,368.05 L251.65,368.47 L252.40,368.92 L253.15,369.41 L253.90,369.91 L254.65,370.44 L255.40,371.00 L256.15,371.57 L256.90,372.17 L257.65,372.78 L258.40,373.41 L259.15,374.06 L259.90,374.72 L260.65,375.40 L261.40,376.08 L262.15,376.78 L262.90,377.49 L263.65,378.20 L264.40,378.93 L265.15,379.65 L265.90,380.38 L266.65,381.12 L267.40,381.85 L268.15,382.59 L268.90,383.34 L269.65,384.08 L270.40,384.83 L271.15,385.59 L271.90,386.35 L272.65,387.11 L273.40,387.88 L274.15,388.65 L274.90,389.43 L275.65,390.21 L276.40,391.00 L277.15,391.80 L277.90,392.60 L278.65,393.40 L279.40,394.22 L280.15,395.04 L280.90,395.86 L281.65,396.70 L282.40,397.54 L283.15,398.39 L283.90,399.24 L284.65,400.11 L285.40,400.98 L286.15,401.86 L286.90,402.75 L287.65,403.65 L288.40,404.56 L289.15,405.47 L289.90,406.40 L290.65,407.33 L291.40,408.26 L292.15,409.20 L292.90,410.15 L293.65,411.10 L294.40,412.05 L295.15,413.01 L295.90,413.97 L296.65,414.93 L297.40,415.89 L298.15,416.85 L298.90,417.80 L299.65,418.76 L300.40,419.71 L301.15,420.66 L301.90,421.61 L302.65,422.55 L303.40,423.48 L304.15,424.41 L304.90,425.33 L305.65,426.25 L306.40,427.15 L307.15,428.05 L307.90,428.94 L308.65,429.81 L309.40,430.68 L310.15,431.53 L310.90,432.37 L311.65,433.19 L312.40,434.00 L313.15,434.80 L313.90,435.58 L314.65,436.34 L315.40,437.09 L316.15,437.82 L316.90,438.53 L317.65,439.23 L318.40,439.91 L319.15,440.57 L319.90,441.22 L320.65,441.86 L321.40,442.48 L322.15,443.09 L322.90,443.68 L323.65,444.26 L324.40,444.83 L325.15,445.38 L325.90,445.93 L326.65,446.46 L327.40,446.98 L328.15,447.49 L328.90,447.99 L329.65,448.48 L330.40,448.96 L331.15,449.44 L331.90,449.90 L332.65,450.36 L333.40,450.80 L334.15,451.24 L334.90,451.68 L335.65,452.10 L336.40,452.52 L337.15,452.94 L337.90,453.34 L338.65,453.74 L339.40,454.13 L340.15,454.52 L340.90,454.89 L341.65,455.27 L342.40,455.63 L343.15,455.99 L343.90,456.34 L344.65,456.69 L345.40,457.02 L346.15,457.36 L346.90,457.68 L347.65,458.00 L348.40,458.31 L349.15,458.62 L349.90,458.92 L350.65,459.21 L351.40,459.50 L352.15,459.78 L352.90,460.06 L353.65,460.32 L354.40,460.59 L355.15,460.84 L355.90,461.09 L356.65,461.34 L357.40,461.57 L358.15,461.81 L358.90,462.03 L359.65,462.25 L360.40,462.46 L361.15,462.67 L361.90,462.87 L362.65,463.07 L363.40,463.26 L364.15,463.45 L364.90,463.62 L365.65,463.80 L366.40,463.96 L367.15,464.13 L367.90,464.28 L368.65,464.43 L369.40,464.58 L370.15,464.72 L370.90,464.85 L371.65,464.98 L372.40,465.10 L373.15,465.22 L373.90,465.33 L374.65,465.44 L375.40,465.54 L376.15,465.64 L376.90,465.73 L377.65,465.81 L378.40,465.89 L379.15,465.97 L379.90,466.04 L380.65,466.10 L381.40,466.16 L382.15,466.22 L382.90,466.27 L383.65,466.32 L384.40,466.36 L385.15,466.40 L385.90,466.43 L386.65,466.46 L387.40,466.49 L388.15,466.52 L388.90,466.54 L389.65,466.56 L390.40,466.58 L391.15,466.60 L391.90,466.62 L392.65,466.63 L393.40,466.65 L394.15,466.67 L394.90,466.68 L395.65,466.70 L396.40,466.72 L397.15,466.74 L397.90,466.76 L398.65,466.78 L399.40,466.80 L400.15,466.83 L400.90,466.86 L401.65,466.89 L402.40,466.92 L403.15,466.96 L403.90,467.00 L404.65,467.05 L405.40,467.10 L406.15,467.15 L406.90,467.21 L407.65,467.27 L408.40,467.33 L409.15,467.40 L409.90,467.46 L410.65,467.53 L411.40,467.59 L412.15,467.66 L412.90,467.72 L413.65,467.78 L414.40,467.83 L415.15,467.89 L415.90,467.93 L416.65,467.98 L417.40,468.01 L418.15,468.05 L418.90,468.07 L419.65,468.09 L420.40,468.09 L421.15,468.09 L421.90,468.08 L422.65,468.06 L423.40,468.03 L424.15,467.98 L424.90,467.93 L425.00,468.10 L425.00,468.10 Z" fill="#cccccc" fill-opacity="0.8" stroke="#333" stroke-width="1.6" stroke-linejoin="round"/>

<line x1="434.50" x2="434.50" y1="474.50" y2="329.80" stroke="#1a1a1a" stroke-width="1.4" stroke-dasharray="5 5.25"/>
<line x1="26.0" x2="29.20" y1="468.10" y2="468.10" stroke="#333" stroke-width="1.0"/>
<text x="23.6" y="472.30" text-anchor="end" font-family="'Liberation Sans', sans-serif" font-size="10.7" fill="#4d4d4d" color="#4d4d4d">0</text>
<line x1="26.0" x2="29.20" y1="423.40" y2="423.40" stroke="#333" stroke-width="1.0"/>
<text x="23.6" y="427.60" text-anchor="end" font-family="'Liberation Sans', sans-serif" font-size="10.7" fill="#4d4d4d" color="#4d4d4d">1</text>
<line x1="26.0" x2="29.20" y1="378.70" y2="378.70" stroke="#333" stroke-width="1.0"/>
<text x="23.6" y="382.90" text-anchor="end" font-family="'Liberation Sans', sans-serif" font-size="10.7" fill="#4d4d4d" color="#4d4d4d">2</text>
<line x1="26.0" x2="29.20" y1="334.00" y2="334.00" stroke="#333" stroke-width="1.0"/>
<text x="23.6" y="338.20" text-anchor="end" font-family="'Liberation Sans', sans-serif" font-size="10.7" fill="#4d4d4d" color="#4d4d4d">3</text>
<line x1="139.50" x2="139.50" y1="474.50" y2="477.80" stroke="#333" stroke-width="1.0"/>
<text x="139.50" y="488.80" text-anchor="middle" font-family="'Liberation Sans', sans-serif" font-size="10.7" fill="#4d4d4d" color="#4d4d4d">−1.0</text>
<line x1="287.00" x2="287.00" y1="474.50" y2="477.80" stroke="#333" stroke-width="1.0"/>
<text x="287.00" y="488.80" text-anchor="middle" font-family="'Liberation Sans', sans-serif" font-size="10.7" fill="#4d4d4d" color="#4d4d4d">−0.5</text>
<line x1="434.50" x2="434.50" y1="474.50" y2="477.80" stroke="#333" stroke-width="1.0"/>
<text x="434.50" y="488.80" text-anchor="middle" font-family="'Liberation Sans', sans-serif" font-size="10.7" fill="#4d4d4d" color="#4d4d4d">0.0</text>
<line x1="582.00" x2="582.00" y1="474.50" y2="477.80" stroke="#333" stroke-width="1.0"/>
<text x="582.00" y="488.80" text-anchor="middle" font-family="'Liberation Sans', sans-serif" font-size="10.7" fill="#4d4d4d" color="#4d4d4d">0.5</text>
<text transform="translate(10.8,402.15) rotate(-90)" text-anchor="middle" font-family="'Liberation Sans', sans-serif" font-size="13.5" fill="#000" color="#000">Density</text>
</g>
</svg></div>
</body></html>
